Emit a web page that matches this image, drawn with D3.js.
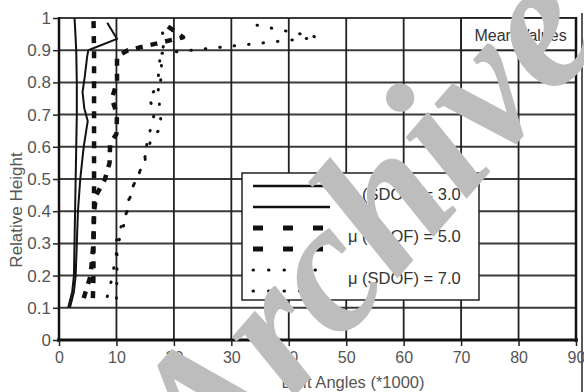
<!DOCTYPE html>
<html>
<head>
<meta charset="utf-8">
<script src="https://cdn.jsdelivr.net/npm/d3@7"></script>
<style>
  html, body { margin: 0; padding: 0; background: #fff; }
  svg { display: block; }
  .sans { font-family: "Liberation Sans", Arial, sans-serif; }
</style>
</head>
<body>
<svg id="chart" width="584" height="392"></svg>
<script>
// Drift profiles over the building height, mean values for three SDOF ductility levels
const xTicks = [0, 10, 20, 30, 40, 50, 60, 70, 80, 90];
const yTicks = [0, 0.1, 0.2, 0.3, 0.4, 0.5, 0.6, 0.7, 0.8, 0.9, 1];
const yTickLabels = ["0", "0.1", "0.2", "0.3", "0.4", "0.5", "0.6", "0.7", "0.8", "0.9", "1"];

// mu = 3.0 (solid)
const mu3aHeight = [0.1, 0.15, 0.2, 0.3, 0.4, 0.5, 0.6, 0.7, 0.8, 0.9, 0.97, 1.0];
const mu3aDrift  = [1.6, 2.3, 2.6, 2.7, 2.8, 2.9, 3.0, 3.1, 3.1, 3.0, 2.8, 2.7];
const mu3bHeight = [0.1, 0.15, 0.2, 0.3, 0.4, 0.5, 0.6, 0.68, 0.72, 0.77, 0.82, 0.88, 0.9, 0.935, 0.985];
const mu3bDrift  = [1.9, 2.6, 2.9, 3.1, 3.3, 3.7, 4.3, 5.0, 4.4, 4.1, 4.5, 4.9, 5.1, 10.1, 8.4];

// mu = 5.0 (dashed)
const mu5aHeight = [0.13, 0.2, 0.3, 0.4, 0.5, 0.6, 0.7, 0.8, 0.9, 1.0];
const mu5aDrift  = [5.9, 6.0, 6.0, 6.1, 6.1, 6.1, 6.1, 6.1, 6.1, 6.0];
const mu5bHeight = [0.13, 0.2, 0.3, 0.4, 0.45, 0.5, 0.55, 0.61, 0.64, 0.7, 0.75, 0.8, 0.88, 0.9, 0.94, 0.985];
const mu5bDrift  = [4.3, 5.5, 6.0, 6.1, 6.5, 8.0, 8.8, 8.9, 10.0, 10.1, 9.2, 10.1, 10.1, 12.0, 21.6, 18.1];

// mu = 7.0 (dotted)
const mu7aHeight = [0.13, 0.2, 0.27, 0.33, 0.37, 0.42, 0.47, 0.52, 0.56, 0.61, 0.71, 0.755, 0.79, 0.84, 0.89, 0.94, 0.98];
const mu7aDrift  = [10.0, 10.1, 10.1, 10.0, 11.5, 11.9, 12.7, 14.0, 15.0, 15.3, 16.7, 15.5, 17.6, 17.9, 17.6, 45.0, 33.8];
const mu7bHeight = [0.135, 0.19, 0.3, 0.37, 0.47, 0.52, 0.63, 0.66, 0.7, 0.8, 0.88, 0.93, 0.98];
const mu7bDrift  = [8.4, 9.2, 10.3, 11.5, 12.7, 14.0, 16.2, 17.9, 17.6, 17.2, 17.6, 18.5, 17.5];

const legendLabels = ["\u03bc (SDOF) = 3.0", "\u03bc (SDOF) = 5.0", "\u03bc (SDOF) = 7.0"];
const noteLabel = "Mean Values";
const xTitle = "Drift Angles (*1000)";
const yTitle = "Relative Height";
const stampText = "Archive";

const svg = d3.select("#chart");
const x = d3.scaleLinear().domain([0, 90]).range([59, 576]);
const y = d3.scaleLinear().domain([0, 1]).range([340, 18]);

const styles = {
  solid:  { width: 2, dash: null, cap: "butt" },
  dashed: { width: 4.5, dash: "7 8", cap: "butt" },
  dotted: { width: 3, dash: "0.5 14", cap: "round" }
};

// grid
const grid = svg.append("g");
grid.selectAll("line.h").data(yTicks.filter(v => v > 0)).join("line")
  .attr("x1", x(0)).attr("x2", x(90))
  .attr("y1", d => y(d)).attr("y2", d => y(d))
  .attr("stroke", "#3a3a3a").attr("stroke-width", 2);
grid.selectAll("line.v").data(xTicks.filter(v => v > 0 && v < 90)).join("line")
  .attr("x1", d => x(d)).attr("x2", d => x(d))
  .attr("y1", y(1)).attr("y2", y(0))
  .attr("stroke", "#222").attr("stroke-width", 1.8);

// note cell in the top right corner
svg.append("rect")
  .attr("x", x(70)).attr("y", y(1))
  .attr("width", x(90) - x(70)).attr("height", y(0.9) - y(1))
  .attr("fill", "#fff").attr("stroke", "#222").attr("stroke-width", 1.8);
svg.append("text").attr("class", "sans")
  .attr("x", (x(70) + x(90)) / 2 + 2).attr("y", (y(1) + y(0.9)) / 2 + 1)
  .attr("text-anchor", "middle").attr("dominant-baseline", "central")
  .attr("font-size", 16).attr("fill", "#333").text(noteLabel);

// axes frame
svg.append("line").attr("x1", x(0)).attr("x2", x(0)).attr("y1", y(1) - 1).attr("y2", y(0) + 2)
  .attr("stroke", "#111").attr("stroke-width", 2.5);
svg.append("line").attr("x1", x(90)).attr("x2", x(90)).attr("y1", y(1) - 1).attr("y2", y(0) + 2)
  .attr("stroke", "#111").attr("stroke-width", 2.5);
svg.append("line").attr("x1", x(0) - 2).attr("x2", x(90) + 2).attr("y1", y(0)).attr("y2", y(0))
  .attr("stroke", "#111").attr("stroke-width", 3);
svg.append("line").attr("x1", 582).attr("x2", 582).attr("y1", 13).attr("y2", 392)
  .attr("stroke", "#222").attr("stroke-width", 1.5);

// axis ticks and labels
const xAxis = d3.axisBottom(x).tickValues(xTicks).tickSize(6).tickPadding(6).tickFormat(d3.format("d"));
const gx = svg.append("g").attr("transform", `translate(0,${y(0)})`).call(xAxis);
const yAxis = d3.axisLeft(y).tickValues(yTicks).tickSize(6).tickPadding(2)
  .tickFormat((d, i) => yTickLabels[i]);
const gy = svg.append("g").attr("transform", `translate(${x(0)},0)`).call(yAxis);
[gx, gy].forEach(g => {
  g.attr("font-family", null).attr("font-size", null);
  g.select(".domain").remove();
  g.selectAll(".tick line").attr("stroke", "#222").attr("stroke-width", 1.5);
  g.selectAll(".tick text").attr("class", "sans").attr("fill", "#555");
});
gx.selectAll(".tick text").attr("font-size", 16);
gy.selectAll(".tick text").attr("font-size", 17);

// axis titles
svg.append("text").attr("class", "sans").attr("x", 353).attr("y", 388).attr("text-anchor", "middle")
  .attr("font-size", 16.5).attr("fill", "#555").text(xTitle);
svg.append("text").attr("class", "sans").attr("transform", `translate(22,210) rotate(-90)`)
  .attr("text-anchor", "middle").attr("font-size", 17).attr("fill", "#555").text(yTitle);

// drift profiles
const series = [
  { h: mu3aHeight, d: mu3aDrift, s: "solid" },
  { h: mu3bHeight, d: mu3bDrift, s: "solid" },
  { h: mu5aHeight, d: mu5aDrift, s: "dashed" },
  { h: mu5bHeight, d: mu5bDrift, s: "dashed" },
  { h: mu7aHeight, d: mu7aDrift, s: "dotted" },
  { h: mu7bHeight, d: mu7bDrift, s: "dotted" }
];
const line = d3.line().x(p => x(p[0])).y(p => y(p[1]));
svg.append("g").selectAll("path").data(series).join("path")
  .attr("d", s => line(s.d.map((v, i) => [v, s.h[i]])))
  .attr("fill", "none").attr("stroke", "#111")
  .attr("stroke-width", s => styles[s.s].width)
  .attr("stroke-dasharray", s => styles[s.s].dash)
  .attr("stroke-linecap", s => styles[s.s].cap)
  .attr("stroke-linejoin", "round");

// legend
const lg = svg.append("g");
lg.append("rect").attr("x", 242).attr("y", 173).attr("width", 237).attr("height", 127)
  .attr("fill", "#fff").attr("stroke", "#222").attr("stroke-width", 1.5);
const legendStyles = [
  { width: 2.5, dash: null, cap: "butt" },
  { width: 5, dash: "10 20", cap: "butt" },
  { width: 3, dash: "0.5 15", cap: "round" }
];
legendLabels.forEach((lab, i) => {
  const st = legendStyles[i];
  const top = 186 + i * 42;
  [0, 21].forEach(off => {
    lg.append("line").attr("x1", 253).attr("x2", 330)
      .attr("y1", top + off).attr("y2", top + off)
      .attr("stroke", "#111").attr("stroke-width", st.width)
      .attr("stroke-dasharray", st.dash).attr("stroke-linecap", st.cap);
  });
  lg.append("text").attr("class", "sans").attr("x", 348).attr("y", top + 8)
    .attr("dominant-baseline", "central")
    .attr("font-size", 16.5).attr("fill", "#333").text(lab);
});

// archive stamp across the plot
svg.append("text")
  .attr("transform", "translate(210,494) rotate(-49)")
  .attr("text-anchor", "start")
  .style("font-family", "'Liberation Serif', 'Times New Roman', serif")
  .style("font-style", "italic")
  .style("font-weight", "bold")
  .style("font-size", "188px")
  .attr("fill", "#bdbdbd").text(stampText);
</script>
</body>
</html>
